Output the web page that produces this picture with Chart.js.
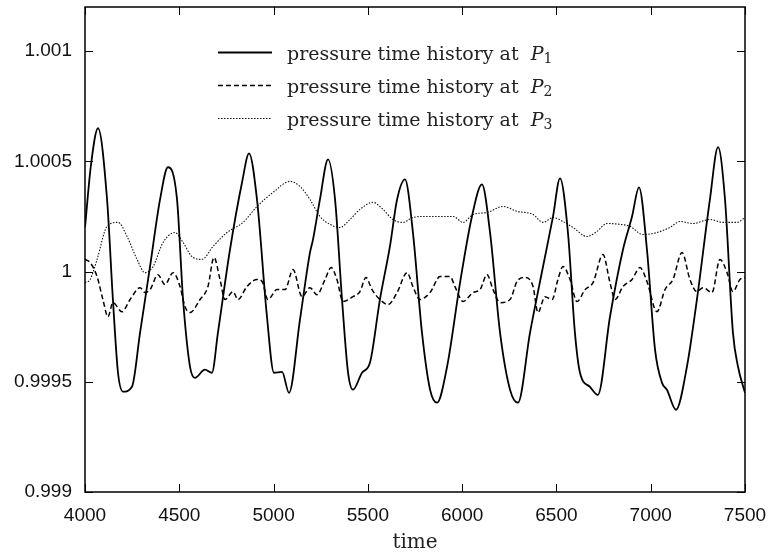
<!DOCTYPE html>
<html>
<head>
<meta charset="utf-8">
<script src="https://cdn.jsdelivr.net/npm/chart.js@4.4.1/dist/chart.umd.min.js"></script>
<style>
  html, body { margin: 0; padding: 0; background: #fff; }
  #wrap { width: 773px; height: 556px; }
</style>
</head>
<body>
<div id="wrap"><canvas id="line" width="773" height="556"></canvas></div>
<script>
// values
var p1Time = [4000, 4032, 4069, 4117, 4148, 4175, 4202, 4249, 4292, 4345, 4398, 4440, 4488, 4520, 4557, 4583, 4636, 4673, 4705, 4769, 4833, 4870, 4912, 4965, 5002, 5045, 5082, 5140, 5193, 5209, 5246, 5289, 5326, 5363, 5395, 5421, 5469, 5511, 5564, 5617, 5655, 5697, 5739, 5787, 5830, 5867, 5920, 5989, 6052, 6105, 6148, 6201, 6254, 6296, 6360, 6429, 6482, 6519, 6561, 6598, 6625, 6678, 6720, 6784, 6853, 6901, 6938, 6980, 7023, 7060, 7086, 7134, 7192, 7245, 7314, 7357, 7394, 7436, 7463, 7500];
var p1Value = [1.000200, 1.000486, 1.000650, 1.000327, 0.999873, 0.999541, 0.999455, 0.999477, 0.999723, 1.000023, 1.000327, 1.000473, 1.000327, 0.999873, 0.999568, 0.999518, 0.999555, 0.999541, 0.999723, 1.000100, 1.000405, 1.000536, 1.000327, 0.999795, 0.999541, 0.999545, 0.999450, 0.999782, 1.000086, 1.000145, 1.000327, 1.000509, 1.000327, 0.999873, 0.999541, 0.999464, 0.999541, 0.999586, 0.999873, 1.000114, 1.000327, 1.000418, 1.000177, 0.999723, 0.999464, 0.999405, 0.999568, 0.999950, 1.000250, 1.000395, 1.000177, 0.999723, 0.999464, 0.999405, 0.999723, 1.000023, 1.000250, 1.000423, 1.000177, 0.999723, 0.999541, 0.999477, 0.999441, 0.999795, 1.000100, 1.000250, 1.000382, 1.000100, 0.999645, 0.999495, 0.999464, 0.999373, 0.999568, 0.999873, 1.000327, 1.000564, 1.000327, 0.999723, 0.999568, 0.999450];

var p2Time = [4000, 4027, 4064, 4095, 4122, 4148, 4196, 4239, 4292, 4318, 4345, 4387, 4424, 4467, 4504, 4530, 4557, 4610, 4652, 4684, 4716, 4742, 4785, 4811, 4859, 4912, 4939, 4970, 5018, 5061, 5103, 5151, 5193, 5230, 5273, 5305, 5336, 5368, 5421, 5458, 5490, 5522, 5564, 5607, 5655, 5708, 5739, 5776, 5830, 5883, 5936, 5962, 6005, 6058, 6095, 6132, 6164, 6201, 6254, 6291, 6333, 6376, 6402, 6439, 6477, 6508, 6535, 6572, 6609, 6652, 6694, 6747, 6784, 6811, 6853, 6901, 6943, 6980, 7033, 7076, 7118, 7166, 7208, 7245, 7277, 7325, 7367, 7405, 7436, 7473, 7500];
var p2Value = [1.000055, 1.000041, 0.999977, 0.999873, 0.999795, 0.999859, 0.999818, 0.999873, 0.999927, 0.999905, 0.999918, 0.999986, 0.999941, 0.999995, 0.999932, 0.999841, 0.999814, 0.999873, 0.999932, 1.000064, 0.999964, 0.999873, 0.999909, 0.999873, 0.999932, 0.999964, 0.999955, 0.999873, 0.999918, 0.999918, 1.000009, 0.999886, 0.999927, 0.999895, 0.999964, 1.000018, 0.999964, 0.999864, 0.999886, 0.999909, 0.999973, 0.999918, 0.999873, 0.999850, 0.999905, 0.999995, 0.999932, 0.999873, 0.999905, 0.999977, 0.999977, 0.999932, 0.999864, 0.999905, 0.999918, 0.999986, 0.999918, 0.999859, 0.999873, 0.999955, 0.999973, 0.999932, 0.999814, 0.999886, 0.999873, 0.999964, 1.000023, 0.999964, 0.999864, 0.999918, 0.999950, 1.000077, 0.999950, 0.999873, 0.999932, 0.999964, 1.000018, 0.999955, 0.999818, 0.999918, 0.999964, 1.000086, 0.999964, 0.999909, 0.999927, 0.999905, 1.000055, 0.999995, 0.999909, 0.999964, 0.999973];

var p3Time = [4000, 4027, 4064, 4117, 4175, 4223, 4276, 4318, 4361, 4414, 4477, 4520, 4567, 4620, 4679, 4753, 4838, 4912, 4997, 5087, 5140, 5193, 5246, 5299, 5352, 5405, 5458, 5527, 5580, 5633, 5686, 5739, 5814, 5883, 5952, 6005, 6058, 6132, 6217, 6291, 6376, 6429, 6482, 6535, 6588, 6662, 6715, 6768, 6837, 6890, 6959, 7033, 7102, 7155, 7224, 7314, 7383, 7457, 7500];
var p3Value = [0.999950, 0.999964, 1.000055, 1.000205, 1.000223, 1.000159, 1.000055, 0.999995, 1.000023, 1.000132, 1.000177, 1.000132, 1.000068, 1.000055, 1.000114, 1.000177, 1.000223, 1.000295, 1.000359, 1.000409, 1.000386, 1.000327, 1.000250, 1.000214, 1.000200, 1.000236, 1.000282, 1.000314, 1.000282, 1.000236, 1.000223, 1.000245, 1.000250, 1.000250, 1.000250, 1.000223, 1.000259, 1.000268, 1.000295, 1.000273, 1.000259, 1.000223, 1.000245, 1.000227, 1.000200, 1.000159, 1.000182, 1.000218, 1.000214, 1.000205, 1.000168, 1.000177, 1.000200, 1.000227, 1.000218, 1.000236, 1.000223, 1.000223, 1.000245];

var seriesNames = ['pressure time history at P1', 'pressure time history at P2', 'pressure time history at P3'];
var xTicks = [4000, 4500, 5000, 5500, 6000, 6500, 7000, 7500];
var yTicks = [0.999, 0.9995, 1, 1.0005, 1.001];
var yTickLabels = ['0.999', '0.9995', '1', '1.0005', '1.001'];

function pts(t, v) {
    return t.map(function (x, i) { return { x: x, y: v[i] }; });
}

// frame with inward ticks on all four sides, like gnuplot
var framePlugin = {
    id: 'frame',
    afterDatasetsDraw: function (chart) {
        var c = chart.ctx, a = chart.chartArea;
        var xs = chart.scales.x, ys = chart.scales.y;
        c.save();
        c.strokeStyle = '#000';
        c.lineWidth = 1.5;
        c.strokeRect(a.left, a.top, a.right - a.left, a.bottom - a.top);
        c.lineWidth = 1;
        c.beginPath();
        xTicks.forEach(function (t) {
            var px = Math.round(xs.getPixelForValue(t)) + 0.5;
            c.moveTo(px, a.bottom); c.lineTo(px, a.bottom - 8);
            c.moveTo(px, a.top); c.lineTo(px, a.top + 8);
        });
        yTicks.forEach(function (t) {
            var py = Math.round(ys.getPixelForValue(t)) + 0.5;
            c.moveTo(a.left, py); c.lineTo(a.left + 8, py);
            c.moveTo(a.right, py); c.lineTo(a.right - 8, py);
        });
        c.stroke();
        c.restore();
    }
};

// legend drawn inside the plot, top middle
var keyPlugin = {
    id: 'key',
    afterDraw: function (chart) {
        var c = chart.ctx;
        var x0 = 218, x1 = 272, tx = 287, y0 = 52, dy = 33;
        c.save();
        chart.data.datasets.forEach(function (ds, i) {
            var y = y0 + i * dy + 0.5;
            c.strokeStyle = ds.borderColor;
            c.lineWidth = ds.borderWidth;
            c.setLineDash(ds.borderDash || []);
            c.beginPath(); c.moveTo(x0, y); c.lineTo(x1, y); c.stroke();
            c.setLineDash([]);
            var txt = ds.label.slice(0, -2) + ' ';
            var sub = ds.label.slice(-1);
            c.fillStyle = '#222';
            c.textBaseline = 'alphabetic';
            c.font = '19px "DejaVu Serif"';
            c.fillText(txt, tx, y + 7);
            var w = c.measureText(txt).width;
            c.font = 'italic 19px "DejaVu Serif"';
            c.fillText('P', tx + w, y + 7);
            var wp = c.measureText('P').width;
            c.font = '14px "DejaVu Serif"';
            c.fillText(sub, tx + w + wp, y + 10);
        });
        c.restore();
    }
};

var ctx = document.getElementById('line').getContext('2d');
var myChart = new Chart(ctx, {
    type: 'line',
    data: {
        datasets: [{
            label: seriesNames[0],
            data: pts(p1Time, p1Value),
            borderColor: '#000',
            borderWidth: 1.8
        }, {
            label: seriesNames[1],
            data: pts(p2Time, p2Value),
            borderColor: '#000',
            borderWidth: 1.5,
            borderDash: [5, 3]
        }, {
            label: seriesNames[2],
            data: pts(p3Time, p3Value),
            borderColor: '#111',
            borderWidth: 1.1,
            borderDash: [1.5, 1.5]
        }]
    },
    options: {
        responsive: false,
        animation: false,
        elements: { point: { radius: 0 }, line: { cubicInterpolationMode: 'monotone' } },
        layout: { padding: { left: 0, right: 28, top: 7, bottom: 0 } },
        plugins: { legend: { display: false }, tooltip: { enabled: false } },
        scales: {
            x: {
                type: 'linear',
                min: 4000,
                max: 7500,
                grid: { display: false, drawTicks: false },
                border: { display: false },
                afterBuildTicks: function (s) { s.ticks = xTicks.map(function (v) { return { value: v }; }); },
                afterFit: function (s) { s.height = 64; s.paddingLeft = 0; s.paddingRight = 0; },
                ticks: {
                    color: '#111',
                    padding: 12,
                    maxRotation: 0,
                    font: { family: '"Liberation Sans", Arial', size: 19 },
                    callback: function (v) { return String(v); }
                },
                title: {
                    display: true,
                    text: 'time',
                    color: '#222',
                    padding: { top: 0, bottom: 1 },
                    font: { family: '"DejaVu Serif"', size: 20 }
                }
            },
            y: {
                min: 0.999,
                max: 1.0012,
                grid: { display: false, drawTicks: false },
                border: { display: false },
                afterBuildTicks: function (s) { s.ticks = yTicks.map(function (v) { return { value: v }; }); },
                afterFit: function (s) { s.width = 85; s.paddingTop = 0; s.paddingBottom = 0; },
                ticks: {
                    color: '#111',
                    padding: 13,
                    font: { family: '"Liberation Sans", Arial', size: 19 },
                    callback: function (v, i) { return yTickLabels[i]; }
                }
            }
        }
    },
    plugins: [framePlugin, keyPlugin]
});
</script>
</body>
</html>
